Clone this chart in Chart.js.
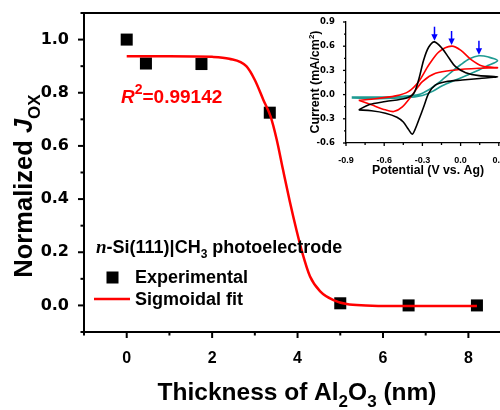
<!DOCTYPE html>
<html>
<head>
<meta charset="utf-8">
<script src="https://cdn.jsdelivr.net/npm/chart.js@4.4.1/dist/chart.umd.min.js"></script>
<style>
  html, body { margin: 0; padding: 0; background: #fff; overflow: hidden; width: 500px; height: 410px; }
  #wrap { position: relative; width: 500px; height: 410px; }
  #main { position: absolute; left: 0; top: 0; }
  #inset { position: absolute; left: 290px; top: 10px; }
</style>
</head>
<body>
<div id="wrap">
  <canvas id="main" width="500" height="410"></canvas>
  <canvas id="inset" width="247" height="175"></canvas>
</div>
<script>
// main plot: normalized J_ox vs Al2O3 thickness
const thickness = [0, 0.45, 1.75, 3.35, 5.0, 6.6, 8.2];
const joxNorm = [1.0, 0.91, 0.908, 0.725, 0.008, 0.0, 0.0];

// sigmoidal fit
const fitX = [0, 1, 2, 2.4, 2.8, 3.0, 3.2, 3.37, 3.51, 3.66, 3.82, 3.98, 4.1, 4.29, 4.53, 4.84, 5.15, 5.6, 6.2, 7, 8.2];
const fitY = [0.937, 0.937, 0.935, 0.928, 0.90, 0.848, 0.773, 0.71, 0.625, 0.51, 0.39, 0.28, 0.205, 0.11, 0.053, 0.02, 0.005, 0.0, -0.002, -0.002, -0.002];

// inset: cyclic voltammograms (potential V vs Ag, current mA/cm2)
const cvBlackX = [-0.80, -0.72, -0.59, -0.43, -0.37, -0.33, -0.29, -0.25, -0.205, -0.145, -0.09, -0.04, 0.04, 0.145, 0.29,
                  0.15, 0.013, -0.118, -0.197, -0.25, -0.289, -0.328, -0.36, -0.38, -0.41, -0.45, -0.50, -0.59, -0.70, -0.80];
const cvBlackY = [-0.19, -0.125, -0.086, -0.045, 0.01, 0.18, 0.43, 0.59, 0.654, 0.573, 0.45, 0.346, 0.272, 0.235, 0.222,
                  0.20, 0.181, 0.16, 0.12, 0.017, -0.148, -0.312, -0.44, -0.49, -0.43, -0.34, -0.28, -0.23, -0.20, -0.19];

const cvRedX = [-0.80, -0.70, -0.51, -0.41, -0.33, -0.25, -0.17, -0.07, 0.0, 0.08, 0.17, 0.29,
                0.145, -0.04, -0.197, -0.30, -0.38, -0.46, -0.525, -0.59, -0.70, -0.80];
const cvRedY = [-0.07, -0.057, -0.016, 0.037, 0.16, 0.367, 0.531, 0.601, 0.552, 0.437, 0.354, 0.333,
                0.326, 0.305, 0.264, 0.16, -0.004, -0.156, -0.21, -0.189, -0.127, -0.07];

const cvTealX = [-0.855, -0.64, -0.45, -0.33, -0.25, -0.17, -0.08, 0.0, 0.07, 0.144, 0.22, 0.29,
                 0.2, 0.144, 0.05, -0.04, -0.144, -0.22, -0.30, -0.43, -0.64, -0.855];
const cvTealY = [-0.03, -0.03, -0.02, 0.0, 0.06, 0.15, 0.27, 0.37, 0.445, 0.481, 0.465, 0.42,
                 0.35, 0.305, 0.24, 0.18, 0.11, 0.04, -0.01, -0.04, -0.05, -0.04];

// blue arrows over the anodic peaks
const arrowX = [-0.205, -0.071, 0.144];
const arrowTipY = [0.668, 0.615, 0.495];

const FONT = '"Liberation Sans", Arial, Helvetica, sans-serif';
const WIDE = '"DejaVu Sans", Verdana, sans-serif';

const pts = (xs, ys) => xs.map((x, i) => ({ x: x, y: ys[i] }));

function richText(ctx, parts, x, y, align) {
  let w = 0;
  parts.forEach(p => { ctx.font = p[1]; w += ctx.measureText(p[0]).width; });
  let cx = align === 'center' ? x - w / 2 : x;
  parts.forEach(p => {
    ctx.font = p[1];
    ctx.fillText(p[0], cx, y + (p[2] || 0));
    cx += ctx.measureText(p[0]).width;
  });
}

function drawTicks(chart, o) {
  const { ctx, chartArea: a } = chart;
  const xs = chart.scales.x, ys = chart.scales.y;
  ctx.save();
  ctx.strokeStyle = '#000';
  ctx.lineWidth = o.width;
  xs.ticks.forEach(t => {
    const p = xs.getPixelForValue(t.value);
    if (p < a.left - 1 || p > a.right + 1) return;
    const len = o.xMajor(t.value) ? o.major : o.minor;
    ctx.beginPath(); ctx.moveTo(p, a.bottom); ctx.lineTo(p, a.bottom + len); ctx.stroke();
  });
  ys.ticks.forEach(t => {
    const p = ys.getPixelForValue(t.value);
    if (p < a.top - 1 || p > a.bottom + 1) return;
    const len = o.yMajor(t.value) ? o.major : o.minor;
    ctx.beginPath(); ctx.moveTo(a.left, p); ctx.lineTo(a.left - len, p); ctx.stroke();
  });
  ctx.restore();
}

// keep the plot box exactly where the layout padding puts it
const fixY = w => s => { s.width = w; s.paddingTop = 0; s.paddingBottom = 0; };
const fixX = h => s => { s.height = h; s.paddingLeft = 0; s.paddingRight = 0; };

const mainDecor = {
  id: 'mainDecor',
  afterDraw(chart) {
    const { ctx, chartArea: a } = chart;
    drawTicks(chart, {
      width: 2, major: 6, minor: 3.5,
      xMajor: v => Math.round(v) % 2 === 0,
      yMajor: v => Math.round(v * 10) % 2 === 0
    });
    ctx.save();
    // top frame line
    ctx.strokeStyle = '#000';
    ctx.lineWidth = 2;
    ctx.beginPath(); ctx.moveTo(a.left, a.top); ctx.lineTo(a.right, a.top); ctx.stroke();

    ctx.fillStyle = '#000';
    ctx.textBaseline = 'alphabetic';
    // x title
    richText(ctx, [
      ['Thickness of Al', 'bold 24.5px ' + FONT],
      ['2', 'bold 17px ' + FONT, 7],
      ['O', 'bold 24.5px ' + FONT],
      ['3', 'bold 17px ' + FONT, 7],
      [' (nm)', 'bold 24.5px ' + FONT]
    ], 297, 400, 'center');
    // y title
    ctx.save();
    ctx.translate(32, 186);
    ctx.rotate(-Math.PI / 2);
    richText(ctx, [
      ['Normalized ', 'bold 25.5px ' + FONT],
      ['J', 'italic bold 25.5px ' + FONT],
      ['OX', 'bold 17px ' + FONT, 8]
    ], 0, 0, 'center');
    ctx.restore();

    // R^2 label
    ctx.fillStyle = '#ff0000';
    richText(ctx, [
      ['R', 'italic bold 19px ' + FONT],
      ['2', 'bold 14px ' + FONT, -9],
      ['=0.99142', 'bold 19px ' + FONT]
    ], 121, 103, 'left');

    // sample label
    ctx.fillStyle = '#000';
    richText(ctx, [
      ['n', 'italic bold 19px "Liberation Serif", "Times New Roman", serif'],
      ['-Si(111)|CH', 'bold 18px ' + FONT],
      ['3', 'bold 12px ' + FONT, 5],
      [' photoelectrode', 'bold 18px ' + FONT]
    ], 96, 253, 'left');

    // legend
    const dsP = chart.data.datasets[0], dsF = chart.data.datasets[1];
    ctx.fillStyle = dsP.backgroundColor;
    ctx.fillRect(106.5, 271.5, 12, 12);
    ctx.strokeStyle = dsF.borderColor;
    ctx.lineWidth = dsF.borderWidth;
    ctx.beginPath(); ctx.moveTo(94, 299); ctx.lineTo(130, 299); ctx.stroke();
    ctx.fillStyle = '#000';
    ctx.font = 'bold 18px ' + FONT;
    ctx.fillText(dsP.label, 135, 283);
    ctx.fillText(dsF.label, 135, 305);
    ctx.restore();
  }
};

new Chart(document.getElementById('main'), {
  type: 'scatter',
  data: {
    datasets: [
      {
        label: 'Experimental',
        data: pts(thickness, joxNorm),
        pointStyle: 'rect',
        pointRadius: 8.5,
        pointHoverRadius: 8.5,
        backgroundColor: '#000000',
        borderWidth: 0,
        order: 1
      },
      {
        label: 'Sigmoidal fit',
        data: pts(fitX, fitY),
        showLine: true,
        pointRadius: 0,
        borderColor: '#ff0000',
        backgroundColor: '#ff0000',
        borderWidth: 2.5,
        tension: 0.4,
        cubicInterpolationMode: 'monotone',
        order: 0
      }
    ]
  },
  options: {
    responsive: false,
    animation: false,
    events: [],
    layout: { autoPadding: false, padding: { top: 13, left: 0, right: 0, bottom: 0 } },
    plugins: { legend: { display: false }, tooltip: { enabled: false } },
    scales: {
      x: {
        type: 'linear', min: -1, max: 8.74,
        grid: { display: false },
        border: { display: true, color: '#000', width: 2 },
        ticks: {
          stepSize: 1, includeBounds: false, autoSkip: false, maxRotation: 0, padding: 9,
          color: '#000', font: { family: FONT, size: 16, weight: 'bold' },
          callback: v => (Math.round(v) % 2 === 0 && v >= 0) ? String(v) : ''
        },
        afterFit: fixX(78)
      },
      y: {
        type: 'linear', min: -0.1, max: 1.1,
        grid: { display: false },
        border: { display: true, color: '#000', width: 2 },
        ticks: {
          stepSize: 0.1, includeBounds: false, autoSkip: false, padding: 7,
          color: '#000', font: { family: WIDE, size: 16, weight: 'bold' },
          callback: v => {
            const k = Math.round(v * 10);
            return (k >= 0 && k <= 10 && k % 2 === 0) ? (k / 10).toFixed(1) : '';
          }
        },
        afterFit: fixY(84)
      }
    }
  },
  plugins: [mainDecor]
});

const insetDecor = {
  id: 'insetDecor',
  afterDraw(chart) {
    const { ctx } = chart;
    drawTicks(chart, {
      width: 1.3, major: 3, minor: 2,
      xMajor: v => Math.round(v / 0.15) % 2 === 0,
      yMajor: v => Math.round(v / 0.15) % 2 === 0
    });
    ctx.save();
    // arrows
    const xs = chart.scales.x, ys = chart.scales.y;
    ctx.strokeStyle = '#0000ff';
    ctx.fillStyle = '#0000ff';
    ctx.lineWidth = 1.5;
    arrowX.forEach((ax, i) => {
      const px = xs.getPixelForValue(ax);
      const tip = ys.getPixelForValue(arrowTipY[i]);
      ctx.beginPath(); ctx.moveTo(px, tip - 14); ctx.lineTo(px, tip - 5); ctx.stroke();
      ctx.beginPath();
      ctx.moveTo(px - 3.2, tip - 6.5); ctx.lineTo(px + 3.2, tip - 6.5); ctx.lineTo(px, tip);
      ctx.closePath(); ctx.fill();
    });
    // axis titles
    ctx.fillStyle = '#000';
    richText(ctx, [['Potential (V vs. Ag)', 'bold 12.3px ' + FONT]], 138, 164, 'center');
    ctx.save();
    ctx.translate(29, 72);
    ctx.rotate(-Math.PI / 2);
    richText(ctx, [
      ['Current (mA/cm', 'bold 12.5px ' + FONT],
      ['2', 'bold 8px ' + FONT, -5],
      [')', 'bold 12.5px ' + FONT]
    ], 0, 0, 'center');
    ctx.restore();
    ctx.restore();
  }
};

const cvLine = (label, xs, ys, color) => ({
  label: label,
  data: pts(xs, ys),
  showLine: true,
  pointRadius: 0,
  borderColor: color,
  backgroundColor: color,
  borderWidth: 1.6,
  tension: 0.3
});

new Chart(document.getElementById('inset'), {
  type: 'scatter',
  data: {
    datasets: [
      cvLine('black', cvBlackX, cvBlackY, '#000000'),
      cvLine('red', cvRedX, cvRedY, '#ff0000'),
      cvLine('teal', cvTealX, cvTealY, '#1f9b92')
    ]
  },
  options: {
    responsive: false,
    animation: false,
    events: [],
    layout: { autoPadding: false, padding: { top: 12, left: 0, right: 0, bottom: 0 } },
    plugins: { legend: { display: false }, tooltip: { enabled: false } },
    scales: {
      x: {
        type: 'linear', min: -0.9, max: 0.6,
        grid: { display: false },
        border: { display: true, color: '#000', width: 1.3 },
        ticks: {
          stepSize: 0.15, maxTicksLimit: 50, includeBounds: false, autoSkip: false, maxRotation: 0, padding: 4,
          color: '#000', font: { family: FONT, size: 9, weight: 'bold' },
          callback: v => {
            const k = Math.round(v / 0.15);
            return (k % 2 === 0 && k <= 2) ? (k * 0.15).toFixed(1) : '';
          }
        },
        afterFit: fixX(42)
      },
      y: {
        type: 'linear', min: -0.6, max: 0.9,
        grid: { display: false },
        border: { display: true, color: '#000', width: 1.3 },
        ticks: {
          stepSize: 0.15, maxTicksLimit: 50, includeBounds: false, autoSkip: false, padding: 3,
          color: '#000', font: { family: WIDE, size: 8.5, weight: 'bold' },
          callback: v => {
            const k = Math.round(v / 0.15);
            return k % 2 === 0 ? (k * 0.15).toFixed(1) : '';
          }
        },
        afterFit: fixY(56)
      }
    }
  },
  plugins: [insetDecor]
});
</script>
</body>
</html>
